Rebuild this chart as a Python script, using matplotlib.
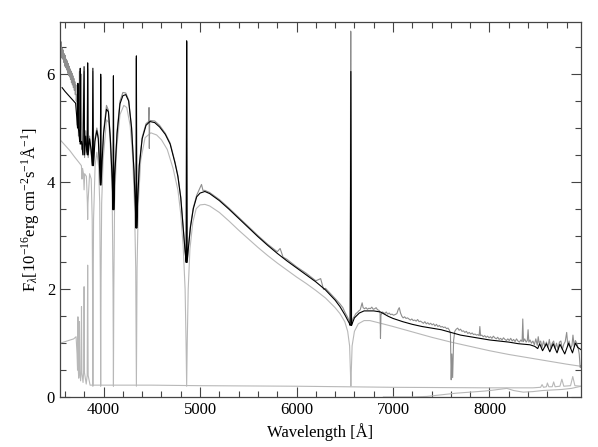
import matplotlib
matplotlib.use("Agg")
import matplotlib.pyplot as plt
from matplotlib.ticker import MultipleLocator

plt.rcParams['font.family'] = ['Liberation Serif', 'DejaVu Serif']
plt.rcParams['mathtext.fontset'] = 'custom'
plt.rcParams['mathtext.rm'] = 'Liberation Serif'
plt.rcParams['mathtext.it'] = 'Liberation Serif:italic'

# observed spectrum (grey)
obs_wave = [3552, 3557, 3562, 3567, 3572, 3577, 3582, 3587, 3592, 3597, 3602, 3607, 3612, 3617,
            3622, 3627, 3632, 3637, 3642, 3647, 3652, 3657, 3662, 3667, 3672, 3677, 3682, 3687,
            3692, 3697, 3702, 3707, 3712, 3717, 3722, 3728, 3734, 3740, 3746, 3750, 3755,
            3762, 3771, 3776, 3785, 3791, 3798, 3803, 3815, 3826, 3835, 3840, 3855, 3870, 3883,
            3889, 3895, 3910, 3930, 3945, 3960, 3966, 3970, 3974, 3985, 4000, 4030, 4050, 4070,
            4090, 4098, 4102, 4106, 4115, 4140, 4170, 4200, 4230, 4260, 4290, 4315, 4330, 4336,
            4340, 4344, 4352, 4370, 4400, 4440, 4466, 4471, 4474, 4478, 4530, 4580, 4640, 4690,
            4740, 4770, 4800, 4825, 4845, 4856, 4861, 4866, 4878, 4900, 4930, 4965, 4990, 5015,
            5030, 5050, 5100, 5200, 5300, 5400, 5500, 5600, 5700, 5800, 5830, 5860, 5900, 6000,
            6100, 6200, 6250, 6280, 6300, 6400, 6450, 6480, 6500, 6530, 6550, 6556, 6561, 6563,
            6566, 6572, 6585,
            6600, 6615, 6630, 6645, 6660, 6672, 6680, 6690, 6705, 6720, 6735, 6750, 6765, 6780,
            6795, 6810, 6825, 6840, 6855, 6866, 6870, 6875, 6888, 6900, 6915, 6930, 6945, 6960,
            6975, 6990, 7005, 7020, 7040, 7055, 7065, 7078, 7092, 7105, 7120, 7135, 7150, 7165,
            7180, 7195, 7210, 7225, 7240, 7255, 7270, 7285, 7300, 7315, 7330, 7345, 7360, 7375,
            7390, 7405, 7420, 7435, 7450, 7465, 7480, 7495, 7510, 7525, 7540, 7555, 7570, 7585,
            7595, 7603, 7610, 7618, 7628, 7640, 7655, 7670, 7685, 7700, 7715, 7730, 7745, 7760,
            7775, 7790, 7805, 7820, 7835, 7850, 7865, 7880, 7893, 7900, 7907, 7920, 7935, 7950,
            7965, 7980, 7995, 8010, 8025, 8040, 8055, 8070, 8085, 8100, 8115, 8130, 8145, 8160,
            8175, 8190, 8205, 8220, 8235, 8250, 8265, 8280, 8295, 8310, 8325, 8338, 8345, 8352,
            8365, 8380, 8392, 8400, 8408, 8420, 8435, 8450, 8465, 8480, 8495, 8505, 8515, 8530,
            8545, 8560, 8575, 8590, 8605, 8620, 8635, 8650, 8665, 8680, 8695, 8710, 8725, 8740,
            8755, 8770, 8785, 8800, 8812, 8825, 8840, 8855, 8865, 8878, 8890, 8905, 8918, 8930,
            8940, 8948]
obs_flux = [6.52, 6.35, 6.60, 6.30, 6.48, 6.28, 6.45, 6.22, 6.38, 6.15, 6.35, 6.12, 6.28, 6.08,
            6.25, 6.02, 6.20, 5.98, 6.15, 5.95, 6.10, 5.90, 6.06, 5.84, 6.02, 5.80, 5.97, 5.75,
            5.92, 5.70, 5.86, 5.62, 5.80, 5.50, 5.62, 5.05, 5.75, 4.85, 5.30, 6.05, 4.70,
            5.00, 6.00, 4.60, 4.70, 4.50, 6.05, 4.45, 4.95, 4.55, 6.10, 4.45, 4.85, 4.55, 4.30,
            6.05, 4.30, 4.80, 5.00, 4.85, 4.20, 3.98, 5.95, 3.98, 4.45, 4.95, 5.42, 5.33, 4.85,
            4.05, 3.50, 5.90, 3.50, 4.15, 4.95, 5.50, 5.66, 5.65, 5.52, 5.02, 4.22, 3.55, 3.18,
            6.30, 3.18, 3.65, 4.32, 4.83, 5.08, 5.12, 5.38, 4.62, 5.14, 5.13, 5.05, 4.90, 4.72,
            4.37, 4.12, 3.72, 3.17, 2.72, 2.52, 6.60, 2.52, 2.78, 3.18, 3.52, 3.75, 3.85, 3.95,
            3.84, 3.84, 3.80, 3.67, 3.51, 3.34, 3.17, 3.00, 2.84, 2.70, 2.76, 2.60, 2.56, 2.42,
            2.30, 2.16, 2.20, 2.00, 2.02, 1.83, 1.73, 1.66, 1.58, 1.48, 1.40, 1.38, 6.80, 6.78,
            1.40, 1.38, 1.46,
            1.50, 1.55, 1.57, 1.60, 1.62, 1.70, 1.75, 1.66, 1.64, 1.66, 1.63, 1.65, 1.64, 1.67,
            1.63, 1.64, 1.66, 1.62, 1.61, 1.56, 1.09, 1.52, 1.58, 1.57, 1.55, 1.58, 1.54, 1.56,
            1.53, 1.54, 1.52, 1.53, 1.55, 1.63, 1.66, 1.56, 1.50, 1.47, 1.49, 1.46, 1.47, 1.45,
            1.43, 1.45, 1.42, 1.43, 1.41, 1.44, 1.40, 1.41, 1.39, 1.37, 1.40, 1.36, 1.38, 1.35,
            1.37, 1.34, 1.36, 1.32, 1.35, 1.31, 1.33, 1.30, 1.31, 1.29, 1.30, 1.27, 1.28, 1.24,
            1.18, 0.32, 0.80, 0.36, 1.05, 1.22, 1.26, 1.28, 1.24, 1.26, 1.22, 1.23, 1.20, 1.22,
            1.18, 1.20, 1.17, 1.19, 1.16, 1.17, 1.15, 1.16, 1.14, 1.31, 1.14, 1.15, 1.12, 1.14,
            1.11, 1.13, 1.10, 1.12, 1.09, 1.13, 1.10, 1.08, 1.11, 1.07, 1.09, 1.06, 1.10, 1.07,
            1.05, 1.08, 1.05, 1.09, 1.04, 1.07, 1.03, 1.08, 1.04, 1.02, 1.06, 1.03, 1.45, 1.03,
            1.08, 1.02, 1.05, 1.25, 1.02, 1.06, 1.00, 1.04, 0.97, 1.08, 0.96, 1.12, 1.00, 1.04,
            0.92, 1.04, 0.94, 1.02, 0.92, 1.07, 0.90, 1.00, 1.04, 0.90, 1.00, 0.88, 1.02, 1.04,
            0.88, 0.98, 1.03, 1.20, 0.95, 1.04, 0.90, 0.96, 1.15, 0.94, 1.05, 1.00, 0.92, 0.80,
            0.55, 0.58]

# total model fit (black)
model_wave = [3570, 3600, 3640, 3680, 3710, 3722, 3730, 3734, 3738, 3745, 3752, 3758, 3763, 3772,
              3785, 3798, 3803, 3815, 3825, 3832, 3835, 3840, 3855, 3870, 3883, 3889, 3895, 3910,
              3930, 3945, 3960, 3966, 3970, 3974, 3985, 4000, 4030, 4050, 4070, 4090, 4098, 4102,
              4106, 4115, 4140, 4170, 4200, 4230, 4260, 4290, 4315, 4330, 4336, 4340, 4344, 4352,
              4370, 4400, 4440, 4480, 4530, 4580, 4640, 4690, 4740, 4770, 4800, 4825, 4845, 4856,
              4861, 4866, 4878, 4900, 4930, 4965, 5000, 5050, 5100, 5200, 5300, 5400, 5500, 5600,
              5700, 5800, 5900, 6000, 6100, 6200, 6300, 6400, 6450, 6500, 6530, 6550, 6556, 6563,
              6570, 6580, 6600, 6650, 6700, 6800, 6870, 6950, 7000, 7100, 7200, 7300, 7400, 7500,
              7600, 7700, 7800, 7900, 8000, 8100, 8200, 8300, 8420, 8470, 8500, 8520, 8550, 8590,
              8625, 8660, 8700, 8730, 8780, 8820, 8860, 8890, 8915, 8948]
model_flux = [5.75, 5.68, 5.60, 5.52, 5.46, 5.20, 5.00, 5.83, 5.00, 4.90, 4.75, 6.11, 4.70, 4.75,
              4.50, 6.14, 4.50, 4.85, 4.60, 4.50, 6.21, 4.50, 4.80, 4.60, 4.30, 6.11, 4.30, 4.75,
              4.95, 4.80, 4.20, 3.94, 6.00, 3.94, 4.40, 4.90, 5.35, 5.30, 4.80, 4.00, 3.48, 5.97,
              3.48, 4.10, 4.90, 5.45, 5.60, 5.62, 5.50, 5.00, 4.20, 3.50, 3.14, 6.34, 3.14, 3.60,
              4.30, 4.80, 5.05, 5.12, 5.10, 5.02, 4.88, 4.70, 4.35, 4.10, 3.70, 3.15, 2.70, 2.50,
              6.62, 2.50, 2.75, 3.15, 3.50, 3.72, 3.79, 3.82, 3.78, 3.65, 3.49, 3.32, 3.15, 2.98,
              2.82, 2.67, 2.53, 2.40, 2.27, 2.14, 1.99, 1.80, 1.68, 1.53, 1.43, 1.36, 1.33, 6.05,
              1.33, 1.38, 1.47, 1.56, 1.60, 1.60, 1.58, 1.50, 1.46, 1.40, 1.35, 1.31, 1.28, 1.25,
              1.20, 1.15, 1.12, 1.09, 1.06, 1.04, 1.02, 0.99, 0.97, 0.94, 0.90, 0.99, 0.86, 0.99,
              0.84, 0.99, 0.82, 0.98, 0.80, 1.00, 0.82, 1.00, 0.92, 0.88]

# white dwarf component (light grey)
wd_wave = [3550, 3600, 3650, 3700, 3740, 3770, 3776, 3782, 3792, 3798, 3804, 3822, 3832, 3835,
           3838, 3855, 3872, 3882, 3887, 3889, 3891, 3896, 3912, 3930, 3948, 3960, 3966, 3970,
           3974, 3980, 3995, 4030, 4055, 4075, 4090, 4098, 4102, 4106, 4114, 4135, 4170, 4210,
           4240, 4275, 4300, 4320, 4333, 4340, 4347, 4360, 4385, 4430, 4490, 4550, 4600, 4660,
           4720, 4770, 4800, 4825, 4845, 4855, 4861, 4867, 4877, 4895, 4925, 4960, 5000, 5050,
           5100, 5200, 5300, 5400, 5500, 5600, 5700, 5800, 5900, 6000, 6100, 6200, 6300, 6400,
           6450, 6500, 6530, 6550, 6558, 6563, 6568, 6576, 6600, 6640, 6700, 6760, 6850, 7000,
           7200, 7400, 7600, 7800, 8000, 8200, 8400, 8600, 8800, 8950]
wd_flux = [4.78, 4.68, 4.58, 4.46, 4.37, 4.30, 4.05, 4.25, 4.15, 3.85, 4.15, 4.10, 3.60, 3.30,
           3.60, 4.15, 4.05, 3.30, 1.50, 0.20, 1.50, 3.30, 4.30, 4.55, 4.30, 3.60, 2.20, 0.20,
           2.20, 3.60, 4.40, 5.15, 5.10, 4.50, 3.60, 2.00, 0.20, 2.00, 3.60, 4.60, 5.25, 5.42,
           5.38, 5.05, 4.50, 3.60, 2.40, 0.20, 2.40, 3.60, 4.40, 4.82, 4.91, 4.87, 4.78, 4.60,
           4.25, 3.85, 3.40, 2.80, 2.00, 1.00, 0.20, 1.00, 2.00, 2.75, 3.25, 3.50, 3.57, 3.58,
           3.55, 3.43, 3.27, 3.10, 2.94, 2.78, 2.63, 2.49, 2.36, 2.23, 2.11, 1.98, 1.84, 1.66,
           1.55, 1.40, 1.22, 0.95, 0.50, 0.20, 0.50, 0.95, 1.22, 1.36, 1.42, 1.42, 1.38, 1.31,
           1.21, 1.11, 1.02, 0.94, 0.86, 0.79, 0.73, 0.67, 0.61, 0.57]

# accretion disc component (light grey)
disc_wave = [3550, 3620, 3690, 3715, 3725, 3730, 3734, 3738, 3742, 3747, 3750, 3754, 3762, 3767,
             3771, 3775, 3787, 3794, 3798, 3802, 3820, 3830, 3835, 3840, 3860, 3880, 4500, 5000,
             6000, 7000, 8000, 8450, 8530, 8545, 8560, 8590, 8600, 8615, 8650, 8665, 8680, 8730,
             8750, 8770, 8840, 8863, 8885, 8950]
disc_flux = [1.00, 1.04, 1.08, 1.12, 0.80, 0.50, 1.49, 0.50, 0.35, 0.50, 1.40, 0.45, 0.30, 0.50,
             1.68, 0.45, 0.27, 0.50, 2.05, 0.45, 0.24, 0.40, 2.45, 0.40, 0.22, 0.22, 0.22, 0.21,
             0.20, 0.18, 0.17, 0.17, 0.18, 0.23, 0.18, 0.19, 0.26, 0.19, 0.19, 0.28, 0.19, 0.20,
             0.33, 0.20, 0.21, 0.38, 0.21, 0.20]

# secondary star component (light grey)
sec_wave = [6900, 7200, 7350, 7500, 7650, 7800, 7950, 8050, 8180, 8250, 8350, 8450, 8550, 8650,
            8750, 8850, 8950]
sec_flux = [0.00, 0.00, 0.01, 0.04, 0.07, 0.09, 0.11, 0.13, 0.16, 0.12, 0.09, 0.10, 0.12, 0.13,
            0.14, 0.16, 0.20]

fig = plt.figure(figsize=(5.98, 4.47), dpi=100)
ax = fig.add_axes([0.1003, 0.1119, 0.8712, 0.8389])

ax.plot(wd_wave, wd_flux, color='#b8b8b8', lw=0.8)
ax.plot(disc_wave, disc_flux, color='#b8b8b8', lw=0.8)
ax.plot(sec_wave, sec_flux, color='#b8b8b8', lw=0.8)
ax.plot(obs_wave, obs_flux, color='#8e8e8e', lw=0.8)
ax.plot(model_wave, model_flux, color='black', lw=0.8)

ax.set_xlim(3548, 8948)
ax.set_ylim(0, 6.97)
ax.xaxis.set_major_locator(MultipleLocator(1000))
ax.xaxis.set_minor_locator(MultipleLocator(200))
ax.yaxis.set_major_locator(MultipleLocator(2))
ax.yaxis.set_minor_locator(MultipleLocator(0.5))
ax.tick_params(which='both', direction='in', top=True, right=True, labelsize=12, color='#444444')
ax.tick_params(which='major', length=7, width=0.8)
ax.tick_params(which='minor', length=4, width=0.8)
for s in ax.spines.values():
    s.set_color('#444444')
    s.set_linewidth(0.9)

ax.set_xlabel('Wavelength [Å]', fontsize=12)
ax.set_ylabel(r'F$_\lambda$[10$^{-16}$erg cm$^{-2}$s$^{-1}$Å$^{-1}$]', fontsize=12)

fig.savefig('out.png', dpi=100)
